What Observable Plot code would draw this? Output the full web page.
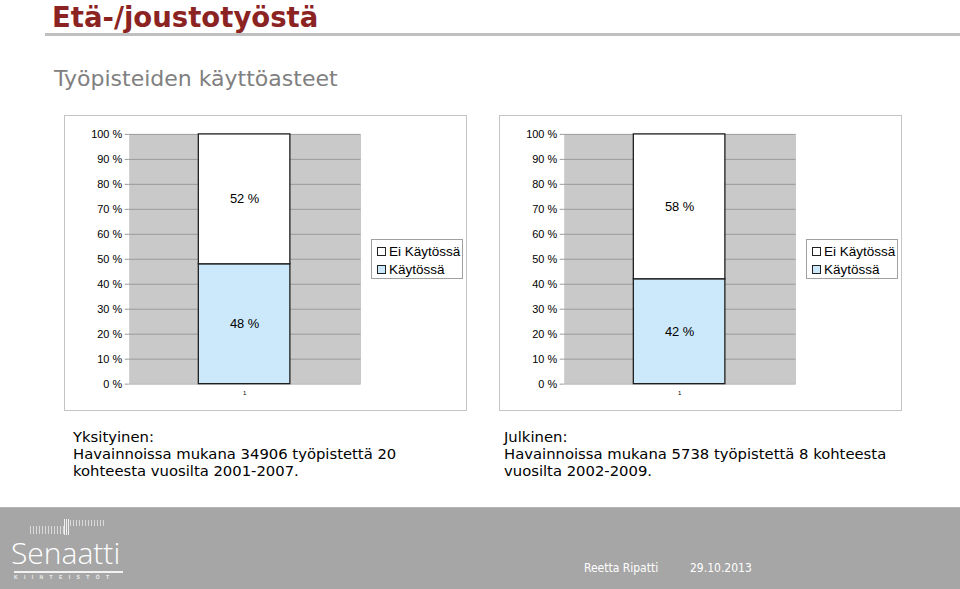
<!DOCTYPE html>
<html><head><meta charset="utf-8">
<script src="https://cdn.jsdelivr.net/npm/d3@7"></script>
<script src="https://cdn.jsdelivr.net/npm/@observablehq/plot@0.6"></script>
<style>
html,body{margin:0;padding:0;background:#fff;}
#page{position:relative;width:960px;height:589px;overflow:hidden;font-family:"DejaVu Sans",Verdana,sans-serif;}
#title{position:absolute;left:52px;top:3px;font-size:27.5px;font-weight:bold;color:#8c2323;white-space:nowrap;line-height:29px;}
#rule{position:absolute;left:45px;right:0;top:33px;height:3px;background:#c0c0c0;}
#subtitle{position:absolute;left:54px;top:64px;font-size:22px;color:#808080;white-space:nowrap;line-height:30px;}
.box{position:absolute;top:115px;width:403px;height:296px;border:1px solid #c4c4c4;box-sizing:border-box;background:#fff;}
.box svg{position:absolute;left:-1px;top:-1px;}
.legend{position:absolute;top:239px;width:92px;height:40px;border:1px solid #a0a0a0;box-sizing:border-box;background:#fff;font-family:"Liberation Sans",Arial,sans-serif;font-size:13.5px;color:#000;}
.legend .item{position:absolute;left:5px;height:16px;line-height:16px;white-space:nowrap;}
.legend .sw{display:inline-block;width:7px;height:7px;border:1px solid #222;margin-right:3px;vertical-align:0px;}
.note{position:absolute;top:428px;font-size:14.8px;line-height:17px;color:#000;white-space:nowrap;}
#footer{position:absolute;left:0;top:507px;width:960px;height:82px;background:#a6a6a6;border-top:1px solid #b4b4b4;}
#logo{position:absolute;left:11px;top:533px;font-family:"Open Sans","Liberation Sans",sans-serif;font-size:30px;font-weight:300;color:#fff;line-height:40px;}
#logoline{position:absolute;left:14px;top:571px;width:109px;height:2px;background:#f2f2f2;}
#logosub{position:absolute;left:14px;top:574px;width:112px;font-family:"Liberation Sans",Arial,sans-serif;font-size:5px;font-weight:bold;letter-spacing:6.4px;color:#eee;line-height:6px;}
#dots1{position:absolute;left:30px;top:526px;width:35px;height:8px;background:repeating-linear-gradient(90deg,#e6e6e6 0 1px,transparent 1px 3px);opacity:.8;}
#dots2{position:absolute;left:70px;top:520px;width:35px;height:6px;background:repeating-linear-gradient(90deg,#e6e6e6 0 1px,transparent 1px 3px);opacity:.8;}
#bars{position:absolute;left:64px;top:519px;width:6px;height:16px;background:repeating-linear-gradient(90deg,#f0f0f0 0 1px,transparent 1px 2px);}
.ftext{position:absolute;top:560px;font-family:"DejaVu Sans Condensed","DejaVu Sans",sans-serif;font-stretch:condensed;font-size:12px;color:#fff;line-height:16px;white-space:nowrap;}
</style></head><body>
<div id="page">
  <div id="title">Etä-/joustotyöstä</div>
  <div id="rule"></div>
  <div id="subtitle">Työpisteiden käyttöasteet</div>
  <div class="box" id="box1" style="left:64px"></div>
  <div class="box" id="box2" style="left:499px"></div>
  <div class="legend" id="leg1" style="left:371px"></div>
  <div class="legend" id="leg2" style="left:806px"></div>
  <div class="note" id="note1" style="left:73px"></div>
  <div class="note" id="note2" style="left:504px"></div>
  <div id="footer"></div>
  <div id="dots1"></div><div id="bars"></div><div id="dots2"></div>
  <div id="logo">Senaatti</div>
  <div id="logoline"></div>
  <div id="logosub">KIINTEISTÖT</div>
  <div class="ftext" style="left:584px">Reetta Ripatti</div>
  <div class="ftext" style="left:690px">29.10.2013</div>
</div>
<script>
// ---- data ----
const categories = ["1"];
const seriesNames = ["Käytössä", "Ei Käytössä"];
const seriesColors = ["#cce9fb", "#ffffff"];
const yksityinenValues = [48, 52];
const julkinenValues = [42, 58];
const yTicks = [0, 10, 20, 30, 40, 50, 60, 70, 80, 90, 100];
const yTickLabels = ["0 %", "10 %", "20 %", "30 %", "40 %", "50 %", "60 %", "70 %", "80 %", "90 %", "100 %"];
const yksityinenNote = ["Yksityinen:", "Havainnoissa mukana 34906 työpistettä 20", "kohteesta vuosilta 2001-2007."];
const julkinenNote = ["Julkinen:", "Havainnoissa mukana 5738 työpistettä 8 kohteesta", "vuosilta 2002-2009."];

function makeChart(values) {
  let acc = 0;
  const rows = seriesNames.map((s, i) => {
    const r = {cat: categories[0], series: s, value: values[i], base: acc};
    acc += values[i];
    return r;
  });
  return Plot.plot({
    width: 403, height: 296,
    marginLeft: 65, marginRight: 105, marginTop: 19, marginBottom: 26,
    style: {fontFamily: "'Liberation Sans', Arial, sans-serif", background: "transparent", overflow: "visible"},
    x: {domain: categories, padding: 0.43, label: null},
    y: {domain: [0, 100], label: null},
    color: {domain: seriesNames, range: seriesColors},
    marks: [
      Plot.frame({fill: "#c9c9c9", stroke: null}),
      Plot.gridY(yTicks.slice(1), {stroke: "#9a9a9a", strokeOpacity: 1}),
      Plot.ruleY([0], {stroke: "#b8b8b8"}),
      Plot.axisY(yTicks, {tickFormat: d => yTickLabels[yTicks.indexOf(d)], tickSize: 4, tickPadding: 3, stroke: "#999", fontSize: 11, label: null}),
      Plot.axisX({tickSize: 0, tickPadding: 7, fontSize: 6, label: null}),
      Plot.barY(rows, {x: "cat", y1: "base", y2: d => d.base + d.value, fill: "series", stroke: "#1e1e1e", strokeWidth: 1.3}),
      Plot.text(rows, {x: "cat", y: d => d.base + d.value / 2, text: d => d.value + " %", fontSize: 13, fill: "#000"})
    ]
  });
}

function makeLegend(el) {
  const order = seriesNames.map((s, i) => i).reverse();
  order.forEach((i, k) => {
    const it = document.createElement("div");
    it.className = "item";
    it.style.top = (4 + k * 17.5) + "px";
    const sw = document.createElement("span");
    sw.className = "sw";
    sw.style.background = seriesColors[i];
    it.appendChild(sw);
    it.appendChild(document.createTextNode(seriesNames[i]));
    el.appendChild(it);
  });
}

document.getElementById("box1").appendChild(makeChart(yksityinenValues));
document.getElementById("box2").appendChild(makeChart(julkinenValues));
makeLegend(document.getElementById("leg1"));
makeLegend(document.getElementById("leg2"));
document.getElementById("note1").innerHTML = yksityinenNote.join("<br>");
document.getElementById("note2").innerHTML = julkinenNote.join("<br>");
</script>
</body></html>
